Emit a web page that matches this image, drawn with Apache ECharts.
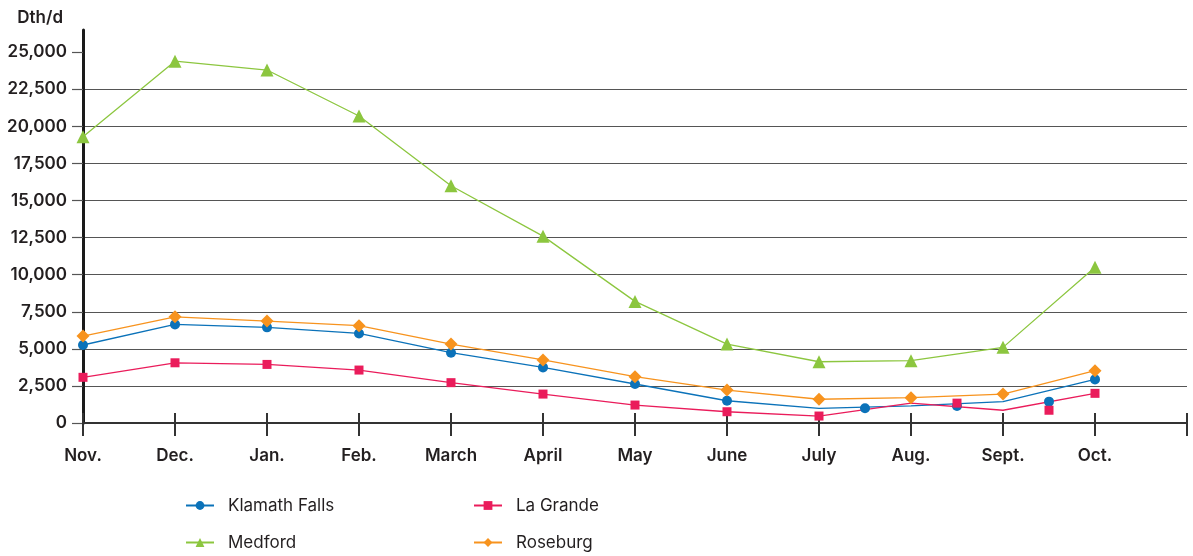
<!DOCTYPE html>
<html>
<head>
<meta charset="utf-8">
<script src="https://cdn.jsdelivr.net/npm/echarts@6/dist/echarts.min.js"></script>
<style>
  html, body { margin: 0; padding: 0; background: #fff; }
  #chart { width: 1193px; height: 556px; }
</style>
</head>
<body>
<div id="chart"></div>
<script>
const months = ['Nov.', 'Dec.', 'Jan.', 'Feb.', 'March', 'April', 'May', 'June', 'July', 'Aug.', 'Sept.', 'Oct.']
const klamathFalls = [5260, 6650, 6450, 6040, 4740, 3750, 2630, 1500, 990, 1150, 1440, 2940]
const laGrande = [3080, 4060, 3950, 3570, 2720, 1950, 1210, 760, 470, 1340, 860, 2000]
const medford = [19300, 24400, 23800, 20700, 16000, 12600, 8200, 5320, 4130, 4200, 5100, 10500]
const roseburg = [5860, 7160, 6870, 6560, 5320, 4250, 3120, 2220, 1600, 1710, 1950, 3530]
const yTicks = [0, 2500, 5000, 7500, 10000, 12500, 15000, 17500, 20000, 22500, 25000]
// in the source chart some markers sit half a month right of their line point
const klamathShifted = [8, 9, 10]
const laGrandeShifted = [9, 10]

const font = 'Inter, "Liberation Sans", sans-serif'
const ink = '#231f20'
const gridColor = '#555555'

function lineSeries(name, values, color, symbol, size, shifted = []) {
  const line = {
    name,
    type: 'line',
    xAxisIndex: 0,
    data: values.map((v, i) => shifted.includes(i) ? { value: [i, v], symbol: 'none' } : [i, v]),
    symbol,
    symbolSize: size,
    showAllSymbol: true,
    color,
    lineStyle: { width: 1.3, color },
    itemStyle: { color },
    z: 3,
  }
  const marks = {
    name,
    type: 'scatter',
    xAxisIndex: 0,
    data: shifted.map(i => [i + 0.5, values[i]]),
    symbol,
    symbolSize: size,
    itemStyle: { color, opacity: 1 },
    z: 4,
  }
  return shifted.length ? [line, marks] : [line]
}

const legendBase = {
  orient: 'vertical',
  top: 492,
  height: 80,
  itemGap: 20,
  itemWidth: 28,
  itemHeight: 11,
  textStyle: { fontFamily: font, fontSize: 17, color: ink, padding: [0, 0, 0, 9] },
}

const chart = echarts.init(document.getElementById('chart'))
chart.setOption({
  backgroundColor: '#fff',
  animation: false,
  textStyle: { fontFamily: font },
  grid: { left: 83, right: 6, top: 30, bottom: 133, containLabel: false, outerBoundsMode: 'none' },
  legend: [
    { ...legendBase, data: ['Klamath Falls', 'Medford'], left: 180 },
    { ...legendBase, data: ['La Grande', 'Roseburg'], left: 468 },
  ],
  xAxis: [
    {
      type: 'value',
      min: 0,
      max: 12,
      interval: 1,
      position: 'bottom',
      axisLine: { lineStyle: { color: '#333', width: 2 } },
      axisTick: { show: true, length: 13, lineStyle: { color: '#333', width: 2 } },
      axisLabel: {
        margin: 24,
        fontFamily: font,
        fontSize: 17,
        fontWeight: 600,
        color: ink,
        formatter: v => months[v] || '',
      },
      splitLine: { show: false },
    },
    {
      type: 'value',
      min: 0,
      max: 12,
      interval: 1,
      position: 'bottom',
      axisLine: { show: false },
      axisTick: { show: true, inside: true, length: 10, lineStyle: { color: '#333', width: 2 } },
      axisLabel: { show: false },
      splitLine: { show: false },
    },
  ],
  yAxis: {
    type: 'value',
    min: 0,
    max: 26500,
    interval: 2500,
    name: 'Dth/d',
    nameLocation: 'end',
    nameGap: 4,
    nameTextStyle: { fontFamily: font, fontSize: 17, fontWeight: 600, color: ink, align: 'right', padding: [0, 20, 0, 0] },
    axisLine: { show: true, lineStyle: { color: '#1a1a1a', width: 3 } },
    axisTick: { show: true, length: 11, customValues: yTicks, lineStyle: { color: gridColor, width: 1.2 } },
    axisLabel: {
      margin: 16,
      fontFamily: font,
      fontSize: 17,
      fontWeight: 600,
      color: ink,
      customValues: yTicks,
      formatter: v => yTicks.includes(v) ? v.toLocaleString('en-US') : '',
    },
    splitLine: { show: true, showMaxLine: false, lineStyle: { color: gridColor, width: 1.2 } },
  },
  series: [
    ...lineSeries('Klamath Falls', klamathFalls, '#0b72b9', 'circle', 10, klamathShifted),
    ...lineSeries('La Grande', laGrande, '#ea1c5b', 'rect', 9, laGrandeShifted),
    ...lineSeries('Medford', medford, '#8cc63f', 'triangle', 13),
    ...lineSeries('Roseburg', roseburg, '#f7931e', 'diamond', 13),
  ],
})
</script>
</body>
</html>
